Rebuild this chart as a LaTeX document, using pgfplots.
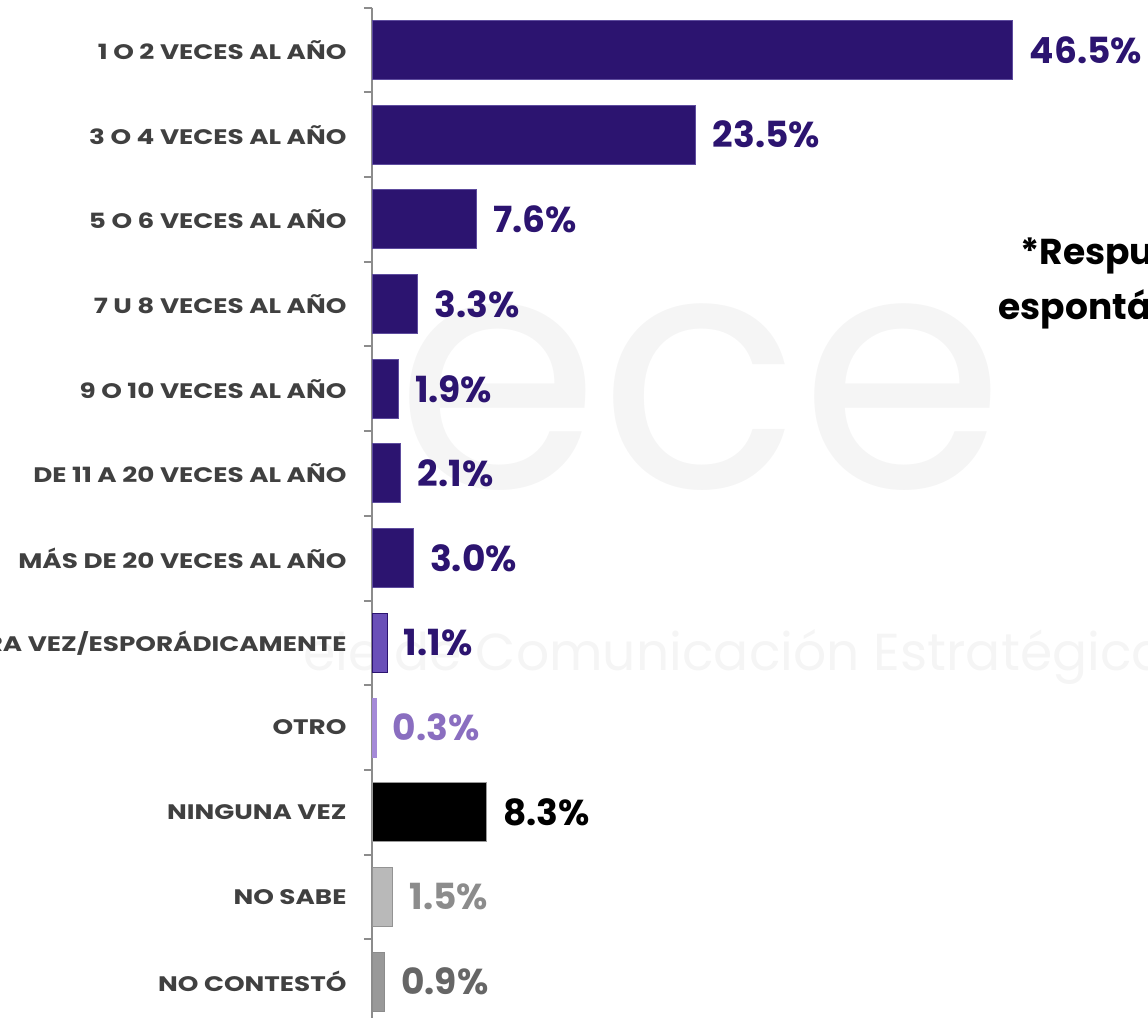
\documentclass[border=0pt]{standalone}
\usepackage{pgfplots}
\pgfplotsset{compat=1.18}
\usepackage{fontspec}
\setmainfont{Poppins}
\newfontfamily\catfont[FakeStretch=1.25]{Poppins}
\definecolor{dpurple}{HTML}{2C1470}
\definecolor{dpedge}{HTML}{5E4C9E}
\definecolor{mpurple}{HTML}{6A50B8}
\definecolor{lpurple}{HTML}{A58AD8}
\definecolor{lptext}{HTML}{8A6EC0}
\definecolor{catgray}{HTML}{404040}
\definecolor{axgray}{HTML}{8C8C8C}
\definecolor{wm}{HTML}{F5F5F5}
\begin{document}
\begin{tikzpicture}
\useasboundingbox (0,0) rectangle (1148pt,1017pt);
\clip (0,0) rectangle (1148pt,1017pt);
% faint watermark
\node[text=wm, font=\fontsize{330}{330}\selectfont] at (700pt,620pt) {ece};
\node[text=wm, font=\fontsize{52}{52}\selectfont, anchor=west] at (300pt,360pt) {ele de Comunicación Estratégica};
\begin{axis}[
  at={(372pt,1009.4pt)}, anchor=north west,
  scale only axis, width=776pt, height=1016.4pt,
  xbar, bar shift=0pt, bar width=59pt,
  xmin=0, xmax=56.3,
  ymin=-0.5, ymax=11.5, y dir=reverse,
  axis x line=none,
  axis y line*=left,
  y axis line style={draw=axgray, line width=2.5pt, -},
  ytick={0,...,11},
  yticklabels={1 O 2 VECES AL AÑO,3 O 4 VECES AL AÑO,5 O 6 VECES AL AÑO,7 U 8 VECES AL AÑO,9 O 10 VECES AL AÑO,DE 11 A 20 VECES AL AÑO,MÁS DE 20 VECES AL AÑO,RARA VEZ/ESPORÁDICAMENTE,OTRO,NINGUNA  VEZ,NO SABE,NO CONTESTÓ},
  yticklabel style={text=catgray, font=\catfont\bfseries\fontsize{21}{21}\selectfont, xshift=-22pt},
  major tick length=0pt,
  minor ytick={-0.5,0.5,...,11.5},
  minor tick length=8pt,
  tick align=outside,
  minor tick style={draw=axgray, line width=2pt},
  nodes near coords={\pgfmathprintnumber[fixed,fixed zerofill,precision=1,assume math mode=true]{\pgfplotspointmeta}\%},
  nodes near coords align=horizontal,
  every node near coord/.append style={anchor=west, xshift=13pt, font=\bfseries\fontsize{36}{36}\selectfont},
  clip=false,
]
\addplot[fill=dpurple, draw=dpedge, line width=1pt, every node near coord/.append style={text=dpurple}]
  coordinates {(46.5,0) (23.5,1) (7.6,2) (3.3,3) (1.9,4) (2.1,5) (3.0,6)};
\addplot[fill=mpurple, draw=dpurple, line width=1pt, every node near coord/.append style={text=dpurple}]
  coordinates {(1.1,7)};
\addplot[fill=lpurple, draw=lpurple, line width=1pt, every node near coord/.append style={text=lptext}]
  coordinates {(0.3,8)};
\addplot[fill=black, draw=gray!80, line width=1pt, every node near coord/.append style={text=black}]
  coordinates {(8.3,9)};
\addplot[fill=gray!55, draw=gray!85, line width=1pt, every node near coord/.append style={text=gray!90}]
  coordinates {(1.5,10)};
\addplot[fill=gray!80, draw=gray!110!black, line width=1pt, every node near coord/.append style={text=gray!80!black}]
  coordinates {(0.9,11)};
\end{axis}
\node[anchor=base west, font=\bfseries\fontsize{36}{36}\selectfont] at (1017pt,752pt) {*Respuesta};
\node[anchor=base west, font=\bfseries\fontsize{36}{36}\selectfont] at (995pt,697pt) {espontánea};
\end{tikzpicture}
\end{document}
